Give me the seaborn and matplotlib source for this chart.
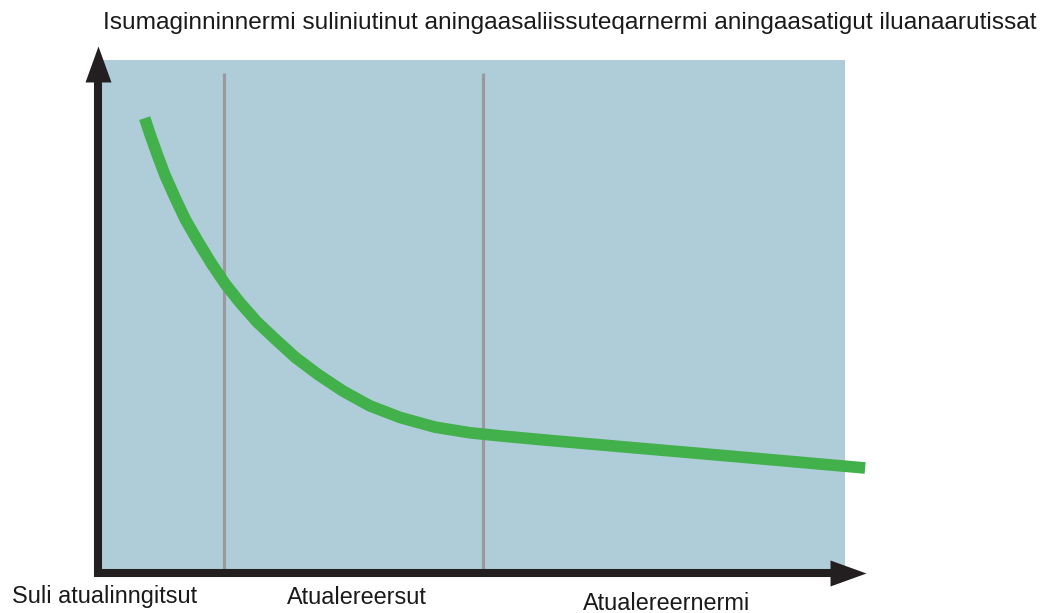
import numpy as np
import pandas as pd
import matplotlib.pyplot as plt
import seaborn as sns

title = "Isumaginninnermi suliniutinut aningaasaliissuteqarnermi aningaasatigut iluanaarutissat"
stage_labels = ["Suli atualinngitsut", "Atualereersut", "Atualereernermi"]
stage_bounds = [16.7, 51.4]

# curve (x: 0-100 across the shaded box, y: 0-100 bottom to top)
curve_x = [6.0, 6.7, 7.7, 8.7, 10.1, 11.5, 13.2, 15.0, 16.8, 18.8, 21.1, 23.5,
           26.2, 29.3, 32.6, 36.2, 40.3, 45.0, 49.7, 53.7, 60.4, 73.8, 87.2, 102.7]
curve_y = [88.6, 85.5, 81.4, 77.5, 72.9, 68.6, 64.3, 60.0, 56.1, 52.4, 48.6, 45.3,
           41.7, 38.3, 35.1, 32.2, 29.9, 28.0, 26.9, 26.3, 25.4, 23.7, 22.0, 20.0]

df = pd.DataFrame({"x": curve_x, "y": curve_y})

sns.set_theme(style="white")
plt.rcParams['font.family'] = ['Liberation Sans', 'DejaVu Sans']

W, H = 1053, 613
fig = plt.figure(figsize=(W / 100, H / 100), dpi=100)
ax = fig.add_axes([100 / W, 43 / H, 745 / W, 510 / H])
ax.set_facecolor("#aecdd8")
ax.set_xlim(0, 100)
ax.set_ylim(0, 100)
for s in ax.spines.values():
    s.set_visible(False)
ax.set_xticks([])
ax.set_yticks([])

for b in stage_bounds:
    ax.axvline(b, ymin=0, ymax=0.975, color="#9a9a9e", lw=2.3, solid_capstyle="butt")

sns.lineplot(data=df, x="x", y="y", color="#42b04b", lw=8.4, ax=ax,
             clip_on=False, solid_capstyle="butt", solid_joinstyle="round", sort=False)
ax.set_xlabel("")
ax.set_ylabel("")

# axis arrows: shaft + triangular head (head 26px wide, 36px long)
axis_col = "#231f20"
shaft = dict(color=axis_col, lw=5.8, solid_capstyle="butt", clip_on=False)
head_up = [(-13, -36), (13, -36), (0, 0), (-13, -36)]
head_right = [(-36, -13), (-36, 13), (0, 0), (-36, -13)]
ax.plot([-0.23, -0.23], [-1.4, 96.0], **shaft)
ax.plot([-0.23], [102.7], marker=head_up, ms=51.8, color=axis_col, mew=0, clip_on=False)
ax.plot([-0.8, 98.2], [-0.6, -0.6], **shaft)
ax.plot([102.8], [-0.6], marker=head_right, ms=51.8, color=axis_col, mew=0, clip_on=False)

fig.text(103 / W, 1 - 23 / H, title, fontsize=17.6, color="#1a1a1a",
         ha="left", va="center")
label_pos = [(12, 597), (287, 597), (583, 603)]
for lab, (px, py) in zip(stage_labels, label_pos):
    fig.text(px / W, 1 - py / H, lab, fontsize=16.9, color="#1a1a1a",
             ha="left", va="center")

fig.savefig("out.png", dpi=100)
